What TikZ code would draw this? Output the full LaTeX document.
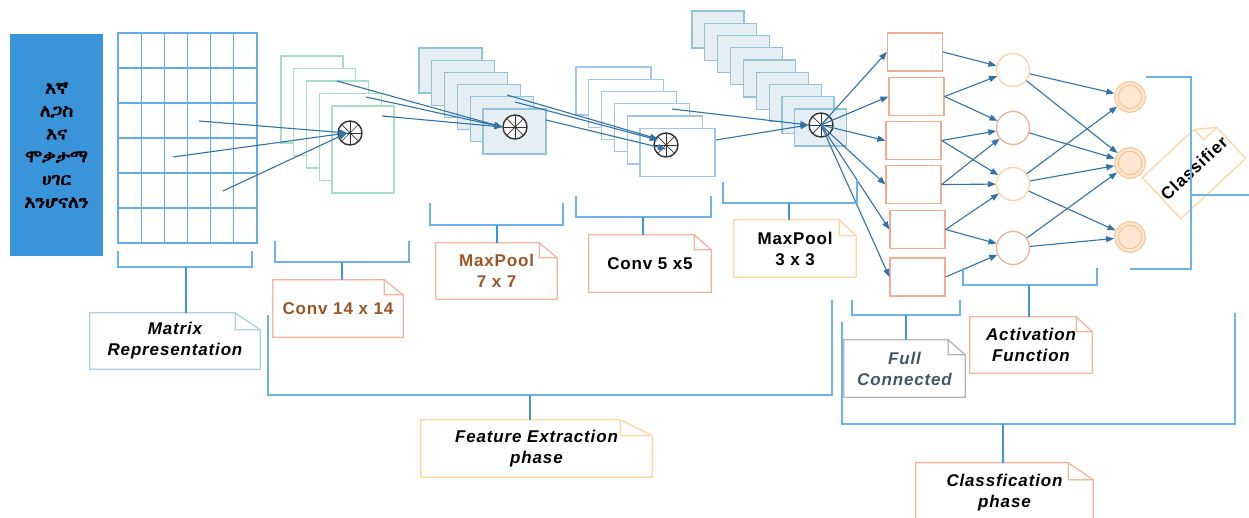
\documentclass[tikz,border=0pt]{standalone}
\usepackage{fontspec}
\setmainfont{Liberation Sans}
\newfontfamily\lblfont{Liberation Sans}[LetterSpace=5]
\IfFontExistsTF{FreeSerif}
  {\newfontfamily\ethfont{FreeSerif}[FakeBold=4,FakeStretch=1.1]}
  {\IfFontExistsTF{FreeSans}
    {\newfontfamily\ethfont{FreeSans}[FakeBold=4,FakeStretch=1.1]}
    {\IfFontExistsTF{Abyssinica SIL}
      {\newfontfamily\ethfont{Abyssinica SIL}[FakeBold=4,FakeStretch=1.1]}
      {\IfFontExistsTF{Noto Sans Ethiopic}
        {\newfontfamily\ethfont{Noto Sans Ethiopic}[FakeBold=3,FakeStretch=1.1]}
        {\newfontfamily\ethfont{DejaVu Sans}}}}}
\usetikzlibrary{arrows.meta,calc}

\definecolor{ethblue}{HTML}{3A94D9}
\definecolor{gridblue}{HTML}{62ACE8}
\definecolor{brkblue}{HTML}{6DB3EA}
\definecolor{stemblue}{HTML}{3D95DA}
\definecolor{arrowblue}{HTML}{3072AB}
\definecolor{mint}{HTML}{A7DEC6}
\definecolor{poolline}{HTML}{92C3D7}
\definecolor{poolfill}{HTML}{E5EEF2}
\definecolor{convline}{HTML}{9FC7EE}
\definecolor{salmon}{HTML}{F2AC94}
\definecolor{hidorange}{HTML}{FDD09E}
\definecolor{outfill}{HTML}{FDE7D2}
\definecolor{outline}{HTML}{F8C38C}
\definecolor{notesal}{HTML}{F5B39C}
\definecolor{noteorange}{HTML}{FFD5A0}
\definecolor{noteblue}{HTML}{A9D3DF}
\definecolor{notegray}{HTML}{AEB6C2}
\definecolor{labelbrown}{HTML}{9A5527}
\definecolor{slate}{HTML}{43546B}
\definecolor{wheelgray}{HTML}{333333}

\newcommand\notefont{\lblfont\bfseries\fontsize{17}{21}\selectfont}

% outline of a note with a folded top-right corner, drawn round a named node
\newcommand\noteframe[4]{%
  \path ($(#1.north east)!#3!(#1.north west)$) coordinate (#1-ea)
        ($(#1.north east)!#4!(#1.south east)$) coordinate (#1-eb);
  \path ($(#1-ea)+(#1-eb)-(#1.north east)$) coordinate (#1-ec);
  \draw[notestroke,draw=#2] (#1.north west) -- (#1-ea) -- (#1-eb)
    -- (#1.south east) -- (#1.south west) -- cycle
    (#1-ea) -- (#1-ec) -- (#1-eb);}

\begin{document}
\begin{tikzpicture}[x=1pt,y=-1pt,
  arr/.style={draw=arrowblue, line width=1.1pt, -{Triangle[length=8pt,width=6pt]}},
  brk/.style={draw=brkblue, line width=1.4pt},
  stem/.style={draw=stemblue, line width=2pt},
  gridline/.style={draw=gridblue, line width=1.3pt},
  layer/.style={rectangle, line width=1.2pt, inner sep=0pt},
  convA/.style={layer, draw=mint, fill=white, minimum width=62pt, minimum height=87pt},
  poolA/.style={layer, draw=poolline, fill=poolfill, minimum width=63pt, minimum height=45pt},
  convB/.style={layer, draw=convline, fill=white, minimum width=75pt, minimum height=48pt},
  poolB/.style={layer, draw=poolline, fill=poolfill, minimum width=52pt, minimum height=37pt},
  fcbox/.style={layer, draw=salmon, fill=white, minimum width=55pt, minimum height=38pt},
  hid/.style={circle, line width=1.2pt, fill=white, minimum size=33pt, inner sep=0pt},
  outn/.style={circle, draw=outline, line width=1.1pt, double=outfill, double distance=2.4pt,
    fill=outfill, minimum size=27pt, inner sep=0pt, outer sep=2.5pt},
  wheel/.style={circle, draw=wheelgray, line width=1.4pt, fill=white, minimum size=24pt, inner sep=0pt,
    path picture={
      \foreach \a in {0,45,90,135}
        \draw[wheelgray, line width=0.7pt]
          ($(path picture bounding box.center)+(\a:12pt)$) --
          ($(path picture bounding box.center)+(\a+180:12pt)$);
      \fill[wheelgray] (path picture bounding box.center) circle (1.3pt);
    }},
  note/.style={rectangle, inner sep=2pt, align=center},
  notestroke/.style={line width=1.3pt, line join=miter}
]
\useasboundingbox (0,0) rectangle (1249,518);

% input text block
\node[fill=ethblue, minimum width=93pt, minimum height=222pt, inner sep=0pt, align=center,
      font=\ethfont\fontsize{17}{22.8}\selectfont] (script) at (56.5,145)
  {እኛ\\ለጋስ\\እና\\ሞቃታማ\\ሀገር\\እንሆናለን};

% matrix representation grid
\node[draw=gridblue, line width=1.3pt, minimum width=139pt, minimum height=210pt, inner sep=0pt]
  (grid) at (187.5,138) {};
\foreach \i in {1,...,5}
  \draw[gridline] ({118+\i*23.1667},33) -- ({118+\i*23.1667},243);
\foreach \j in {1,...,5}
  \draw[gridline] (118,{33+\j*35}) -- (257,{33+\j*35});

% feature map stacks
\foreach \i in {0,...,4}
  \node[convA] (ca\i) at ({312+12.75*\i},{99.5+12.5*\i}) {};
\foreach \i in {0,...,5}
  \node[poolA] (pa\i) at ({450.5+12.8*\i},{70.5+12.2*\i}) {};
\foreach \i in {0,...,5}
  \node[convB] (cb\i) at ({613.5+12.8*\i},{91+12.25*\i}) {};
\foreach \i in {0,...,8}
  \node[poolB] (pb\i) at ({718+12.85*\i},{29.5+12.25*\i}) {};

% kernels
\node[wheel] (w1) at (350,133) {};
\node[wheel] (w2) at (515,127) {};
\node[wheel] (w3) at (666,145) {};
\node[wheel] (w4) at (821,125) {};

% fully connected layer
\node[fcbox] (f1) at (915,52) {};
\node[fcbox] (f2) at (916.5,96.5) {};
\node[fcbox] (f3) at (913.5,140.5) {};
\node[fcbox] (f4) at (913.5,184.5) {};
\node[fcbox] (f5) at (917.5,229.5) {};
\node[fcbox] (f6) at (917.5,277) {};

% activation units
\node[hid, draw=hidorange] (a1) at (1013,70) {};
\node[hid, draw=salmon]    (a2) at (1013,128) {};
\node[hid, draw=hidorange] (a3) at (1013,184) {};
\node[hid, draw=salmon]    (a4) at (1013,248) {};

% output units
\node[outn] (o1) at (1130,97) {};
\node[outn] (o2) at (1130,163) {};
\node[outn] (o3) at (1130,237) {};

% connections between stages
\coordinate (g1) at (199,121);
\coordinate (g2) at (173,157);
\coordinate (g3) at (223,191);
\foreach \g in {g1,g2,g3}
  \draw[arr] (\g) -- ([xshift=-3pt]w1.center);

\coordinate (k1) at (337,81);
\coordinate (k2) at (366,97);
\coordinate (k3) at (382,116);
\foreach \k in {k1,k2,k3}
  \draw[arr] (\k) -- (w2.west);

\coordinate (m1) at (507,95);
\coordinate (m2) at (515,102);
\coordinate (m3) at (546,120);
\draw[arr] (m1) -- ([xshift=-8pt,yshift=6pt]w3.center);
\draw[arr] (m2) -- ([xshift=-8pt,yshift=5pt]w3.center);
\draw[arr] (m3) -- ([xshift=0pt,yshift=-4pt]w3.center);

\coordinate (n1) at (716,140);
\coordinate (n2) at (672,109);
\draw[arr] (n1) -- (w4.west);
\draw[arr] (n2) -- (w4.west);

\foreach \f in {f1,f2,f3,f4,f5,f6}
  \draw[arr] (w4.center) -- (\f.west);

\draw[arr] (f1.east) -- (a1);
\draw[arr] (f2.east) -- (a1);
\draw[arr] (f2.east) -- (a2);
\draw[arr] (f3.east) -- (a2);
\draw[arr] (f3.east) -- (a3);
\draw[arr] (f4.east) -- (a2);
\draw[arr] (f4.east) -- (a3);
\draw[arr] (f5.east) -- (a3);
\draw[arr] (f5.east) -- (a4);
\draw[arr] (f6.east) -- (a4);

\draw[arr] (a1) -- (o1);
\draw[arr] (a1) -- (o2);
\draw[arr] (a2) -- (o2);
\draw[arr] (a3) -- (o1);
\draw[arr] (a3) -- (o2);
\draw[arr] (a3) -- (o3);
\draw[arr] (a4) -- (o2);
\draw[arr] (a4) -- (o3);

% labels
\node[note, minimum width=170pt, minimum height=56pt, font={\notefont\itshape}]
  (mrep) at (175,341) {Matrix\\Representation};
\noteframe{mrep}{noteblue}{25pt}{17pt}

\node[note, minimum width=130pt, minimum height=57pt, font=\notefont, text=labelbrown]
  (conv14) at (338,308.5) {Conv 14 x 14};
\noteframe{conv14}{notesal}{19pt}{15pt}

\node[note, minimum width=121pt, minimum height=56pt, font=\notefont, text=labelbrown]
  (mp7) at (496.5,271) {MaxPool\\7 x 7};
\noteframe{mp7}{notesal}{18pt}{15pt}

\node[note, minimum width=122pt, minimum height=57pt, font=\notefont]
  (conv5) at (650,263.5) {Conv 5 x5};
\noteframe{conv5}{notesal}{17pt}{15pt}

\node[note, minimum width=122pt, minimum height=57pt, font=\notefont]
  (mp3) at (795,248.5) {MaxPool\\3 x 3};
\noteframe{mp3}{noteorange}{17pt}{16pt}

\node[note, minimum width=121pt, minimum height=57pt, font={\notefont\itshape}, text=slate]
  (fc) at (904.5,368.5) {Full\\Connected};
\noteframe{fc}{notegray}{17pt}{15pt}

\node[note, minimum width=122pt, minimum height=56pt, font={\notefont\itshape}]
  (act) at (1031,345) {Activation\\Function};
\noteframe{act}{notesal}{16pt}{15pt}

\node[note, minimum width=231pt, minimum height=57pt, font={\notefont\itshape}]
  (feat) at (536.5,448.5) {Feature Extraction\\phase};
\noteframe{feat}{noteorange}{32pt}{16pt}

\node[note, minimum width=177pt, minimum height=60pt, font={\notefont\itshape}]
  (cls) at (1004.5,493) {Classfication\\phase};
\noteframe{cls}{notesal}{25pt}{17pt}

\node[note, rotate=43, minimum width=87pt, minimum height=56pt, font=\notefont]
  (clf) at (1194,168) {Classifier};
\noteframe{clf}{noteorange}{18pt}{14pt}

% brackets and their stems
\draw[brk] (118,251) |- (252,267) -- (252,251);
\coordinate (s1) at (186,267);
\draw[stem] (s1) -- (s1 |- mrep.north);

\draw[brk] (275,241) |- (409,262) -- (409,241);
\coordinate (s2) at (342,262);
\draw[stem] (s2) -- (s2 |- conv14.north);

\draw[brk] (430,203) |- (563,225) -- (563,203);
\coordinate (s3) at (497,225);
\draw[stem] (s3) -- (s3 |- mp7.north);

\draw[brk] (576,196) |- (711,217) -- (711,196);
\coordinate (s4) at (643,217);
\draw[stem] (s4) -- (s4 |- conv5.north);

\draw[brk] (723,182) |- (857,203) -- (857,180);
\coordinate (s5) at (789,203);
\draw[stem] (s5) -- (s5 |- mp3.north);

\draw[brk] (852,300) |- (960,315) -- (960,300);
\coordinate (s6) at (906,315);
\draw[stem] (s6) -- (s6 |- fc.north);

\draw[brk] (963,268) |- (1097,285) -- (1097,268);
\coordinate (s7) at (1029,285);
\draw[stem] (s7) -- (s7 |- act.north);

\draw[brk] (268,315) |- (832,395) -- (832,300);
\coordinate (s8) at (530,395);
\draw[stem] (s8) -- (s8 |- feat.north);

\draw[brk] (842,322) |- (1235,424) -- (1235,313);
\coordinate (s9) at (1003,424);
\draw[stem] (s9) -- (s9 |- cls.north);

\draw[brk] (1146,77) -| (1191,269) -- (1130,269);
\coordinate (s10) at (1191,195);
\draw[brk] (s10) -- (1249,195);

\end{tikzpicture}
\end{document}
